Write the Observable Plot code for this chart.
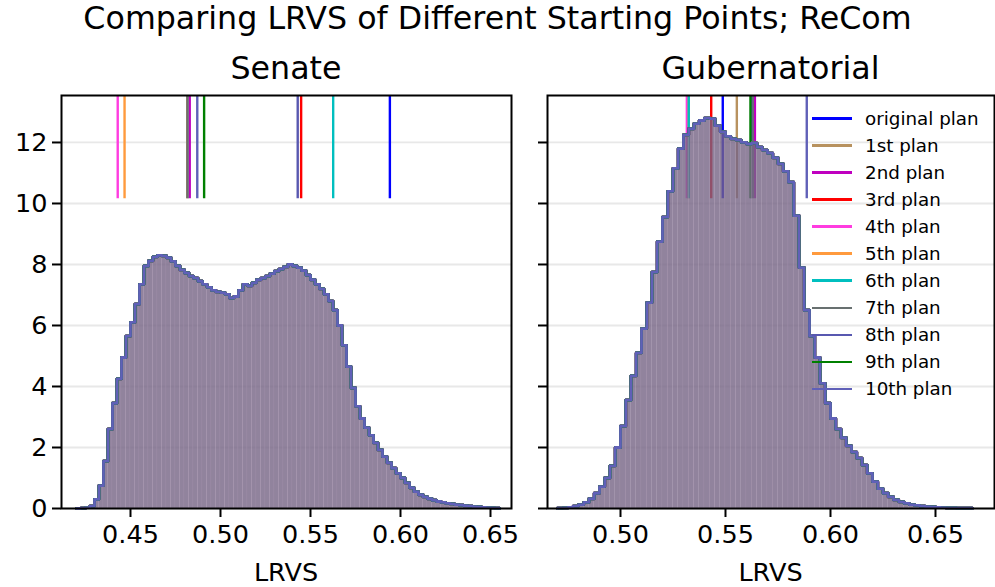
<!DOCTYPE html>
<html><head><meta charset="utf-8">
<script src="https://cdn.jsdelivr.net/npm/d3@7"></script>
<script src="https://cdn.jsdelivr.net/npm/@observablehq/plot@0.6"></script>
<style>
body{margin:0;background:#fff;font-family:"DejaVu Sans",sans-serif;}
#fig{position:relative;width:995px;height:587px;overflow:hidden;background:#fff;}
.t{position:absolute;white-space:nowrap;color:#000;font-family:"DejaVu Sans",sans-serif;}
#fig svg{position:absolute;top:0;}
</style></head><body><div id="fig"></div>
<script>
const planNames = ["original plan","1st plan","2nd plan","3rd plan","4th plan","5th plan","6th plan","7th plan","8th plan","9th plan","10th plan"];
const planColors = ["#0000ff","#b8925f","#bf00bf","#ff0000","#ff3ce0","#ff9a3d","#00bfbf","#687070","#5858b0","#008000","#6060b8"];

// starting-plan LRVS values (vertical lines)
const senateStartLRVS = [0.5941,0.4815,0.4829,0.5448,0.4429,0.4467,0.5626,0.4817,0.5429,0.4909,0.4871];
const gubStartLRVS    = [0.5487,0.5554,0.5640,0.5432,0.5316,0.5325,0.5325,0.5630,0.5622,0.5619,0.5887];

const binWidth = 0.0025;
const senateBinStart = 0.42;
const senateDensity = [0.00,0.01,0.03,0.08,0.30,0.75,1.55,2.60,3.45,4.25,4.95,5.65,6.10,6.70,7.35,7.95,8.12,8.25,8.30,8.28,
8.22,8.10,7.95,7.82,7.72,7.62,7.55,7.45,7.35,7.25,7.15,7.10,7.08,7.02,6.90,6.95,7.15,7.35,7.30,7.40,
7.50,7.55,7.62,7.70,7.78,7.85,7.92,8.00,7.95,7.90,7.80,7.65,7.50,7.35,7.20,7.02,6.80,6.50,6.00,5.35,
4.65,3.95,3.35,2.95,2.65,2.40,2.15,1.92,1.70,1.50,1.32,1.15,1.00,0.84,0.68,0.55,0.45,0.38,0.32,0.27,
0.23,0.20,0.17,0.15,0.13,0.11,0.09,0.08,0.06,0.05,0.04,0.03,0.02,0.01];
const gubBinStart = 0.47;
const gubDensity = [0.01,0.02,0.04,0.08,0.13,0.20,0.32,0.50,0.72,1.00,1.40,2.00,2.70,3.55,4.35,5.10,5.90,6.75,7.75,8.75,
9.55,10.40,11.15,11.80,12.25,12.45,12.62,12.72,12.80,12.78,12.55,12.35,12.20,12.12,12.08,12.00,11.95,11.98,11.85,11.75,
11.65,11.50,11.30,11.05,10.70,9.60,7.90,6.50,5.65,4.95,4.10,3.45,2.95,2.60,2.32,2.05,1.85,1.65,1.42,1.15,
0.88,0.65,0.50,0.38,0.28,0.22,0.17,0.13,0.10,0.08,0.06,0.05,0.04,0.03,0.02,0.02,0.01,0.01,0.01];

const senateXTicks = [0.45,0.50,0.55,0.60,0.65];
const gubXTicks = [0.50,0.55,0.60,0.65];
const yTicks = [0,2,4,6,8,10,12];
const yMax = 13.54;
const vlineFrac = 0.75;

const fig = document.getElementById("fig");
const TICK_FS = 25.5;

function panel({binStart, density, lines, xDomain, xTicks, width, ml, mr, showYLabels}) {
  const bins = density.map((v,i)=>({x1: binStart+i*binWidth, x2: binStart+(i+1)*binWidth, y: v}));
  const last = bins[bins.length-1];
  const outline = [{x: bins[0].x1, y: 0}, ...bins.map(b=>({x: b.x1, y: b.y})), {x: last.x2, y: last.y}, {x: last.x2, y: 0}];
  const series = planNames.flatMap(name => outline.map(p => ({...p, plan: name})));
  const vlines = planNames.map((name,k)=>({plan: name, x: lines[k]}));
  return Plot.plot({
    width, height: 587, marginTop: 95, marginBottom: 79, marginLeft: ml, marginRight: mr,
    x: {domain: xDomain},
    y: {domain: [0, yMax]},
    color: {domain: planNames, range: planColors},
    style: {fontFamily: "DejaVu Sans", fontSize: TICK_FS + "px", color: "#000", background: "transparent", overflow: "visible"},
    marks: [
      Plot.gridY(yTicks, {stroke: "#e8e8e8", strokeOpacity: 1, strokeWidth: 1.8}),
      Plot.ruleX(vlines, {x: "x", y1: yMax*vlineFrac, y2: yMax, stroke: "plan", strokeWidth: 2.4}),
      Plot.rectY(bins, {x1: "x1", x2: "x2", y: "y", fill: "rgb(118,100,132)", fillOpacity: 0.8, stroke: "#a898b0", strokeWidth: 0.6, strokeOpacity: 0.6}),
      Plot.line(series, {x: "x", y: "y", z: "plan", stroke: "plan", strokeWidth: 2.8, curve: "step-after"}),
      Plot.frame({stroke: "#000", strokeWidth: 2}),
      Plot.axisX({ticks: xTicks, tickFormat: d3.format(".2f"), tickSize: 9, tickPadding: 7, strokeWidth: 2, fontSize: TICK_FS, label: null}),
      Plot.axisY({ticks: yTicks, tickFormat: showYLabels ? d3.format("d") : () => "", tickSize: 9, tickPadding: 5, strokeWidth: 2, fontSize: TICK_FS, label: null})
    ]
  });
}

const left = panel({binStart: senateBinStart, density: senateDensity, lines: senateStartLRVS,
  xDomain: [0.41167, 0.66167], xTicks: senateXTicks, width: 530, ml: 61, mr: 19, showYLabels: true});
left.style.left = "0px";
fig.appendChild(left);

const right = panel({binStart: gubBinStart, density: gubDensity, lines: gubStartLRVS,
  xDomain: [0.46524, 0.67810], xTicks: gubXTicks, width: 465, ml: 17, mr: 1, showYLabels: false});
right.style.left = "530px";
fig.appendChild(right);

function addText(txt, cx, cy, size, anchor="middle") {
  const d = document.createElement("div");
  d.className = "t";
  d.textContent = txt;
  d.style.fontSize = size + "px";
  d.style.lineHeight = Math.round(size*1.2) + "px";
  d.style.top = (cy - Math.round(size*1.2)/2) + "px";
  if (anchor === "middle") { d.style.left = cx + "px"; d.style.transform = "translateX(-50%)"; }
  else d.style.left = cx + "px";
  fig.appendChild(d);
  return d;
}
addText("Comparing LRVS of Different Starting Points; ReCom", 497.5, 18, 31.7);
addText("Senate", 286, 68, 31.7);
addText("Gubernatorial", 770.5, 68, 31.7);
addText("LRVS", 286, 572, TICK_FS);
addText("LRVS", 770.5, 572, TICK_FS);

// legend
planNames.forEach((name, i) => {
  const cy = 118.5 + 27.03*i;
  const ln = document.createElement("div");
  ln.style.cssText = `position:absolute;left:812px;width:40px;height:2.4px;top:${cy-1.2}px;background:${planColors[i]};`;
  fig.appendChild(ln);
  addText(name, 865, cy, 18.3, "start");
});
</script></body></html>
